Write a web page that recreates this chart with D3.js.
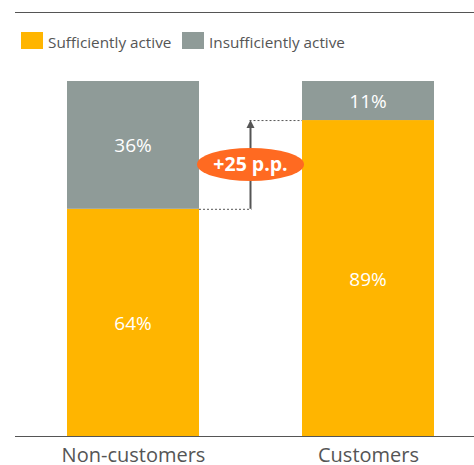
<!DOCTYPE html>
<html>
<head>
<meta charset="utf-8">
<script src="https://cdn.jsdelivr.net/npm/d3@7"></script>
<style>
  body { margin: 0; background: #fff; }
  svg { display: block; font-family: "Open Sans", sans-serif; }
</style>
</head>
<body>
<svg id="chart" width="474" height="465"></svg>
<script>
// data
var categories = ['Non-customers', 'Customers'];
var seriesNames = ['Sufficiently active', 'Insufficiently active'];
var sufficient = [64, 89];
var insufficient = [36, 11];
var colors = ['#FFB500', '#8F9B98'];
var diffLabel = '+25 p.p.';

var svg = d3.select('#chart'),
    width = +svg.attr('width'),
    height = +svg.attr('height');

var barX = d3.scalePoint().domain(categories).range([133, 368]);
var barW = 132;
var y = d3.scaleLinear().domain([0, 100]).range([436, 81]);

var rows = categories.map(function(c, i) {
  return { cat: c, sufficient: sufficient[i], insufficient: insufficient[i] };
});
var stack = d3.stack().keys(['sufficient', 'insufficient'])(rows);

// top rule
svg.append('line')
  .attr('x1', 15).attr('x2', width).attr('y1', 12.5).attr('y2', 12.5)
  .attr('stroke', '#555').attr('stroke-width', 1);

// legend
var legend = svg.append('g');
var lx = [21, 182];
seriesNames.forEach(function(s, i) {
  legend.append('rect').attr('x', lx[i]).attr('y', 32).attr('width', 22).attr('height', 17)
    .attr('fill', colors[i]);
  legend.append('text').attr('x', lx[i] + 27).attr('y', 47.5)
    .attr('font-size', 15.3).attr('fill', '#555').text(s);
});

// bars
var layers = svg.append('g').selectAll('g').data(stack).enter().append('g')
  .attr('fill', function(d, i) { return colors[i]; });

layers.selectAll('rect').data(function(d) { return d; }).enter().append('rect')
  .attr('x', function(d) { return barX(d.data.cat) - barW / 2; })
  .attr('width', barW)
  .attr('y', function(d) { return y(d[1]); })
  .attr('height', function(d) { return y(d[0]) - y(d[1]); });

layers.selectAll('text').data(function(d) { return d; }).enter().append('text')
  .attr('x', function(d) { return barX(d.data.cat); })
  .attr('y', function(d) { return (y(d[0]) + y(d[1])) / 2 + 7.5; })
  .attr('text-anchor', 'middle')
  .attr('font-size', 19)
  .attr('fill', '#fff')
  .text(function(d) { return (d[1] - d[0]) + '%'; });

// baseline axis
var axis = d3.axisBottom(barX).tickSize(0).tickPadding(0);
var gAxis = svg.append('g').attr('transform', 'translate(0,436)').call(axis);
gAxis.select('.domain').remove();
gAxis.selectAll('text').attr('font-size', 20).attr('fill', '#555')
  .attr('dy', null).attr('y', 26)
  .attr('font-family', '"Open Sans", sans-serif');
svg.append('line')
  .attr('x1', 15).attr('x2', width).attr('y1', 436.5).attr('y2', 436.5)
  .attr('stroke', '#555').attr('stroke-width', 1);

// difference annotation
var left = barX(categories[0]) + barW / 2,
    right = barX(categories[1]) - barW / 2,
    mid = (left + right) / 2,
    y0 = y(sufficient[0]),
    y1 = y(sufficient[1]);

svg.append('line').attr('x1', left).attr('x2', mid + 1).attr('y1', y0 + 0.5).attr('y2', y0 + 0.5)
  .attr('stroke', '#555').attr('stroke-dasharray', '2,2');
svg.append('line').attr('x1', mid - 1).attr('x2', right).attr('y1', y1 + 0.5).attr('y2', y1 + 0.5)
  .attr('stroke', '#555').attr('stroke-dasharray', '2,2');
svg.append('line').attr('x1', mid).attr('x2', mid).attr('y1', y0).attr('y2', y1 + 6)
  .attr('stroke', '#555').attr('stroke-width', 2);
svg.append('path')
  .attr('d', 'M' + mid + ',' + y1 + 'L' + (mid - 4) + ',' + (y1 + 8) + 'L' + (mid + 4) + ',' + (y1 + 8) + 'Z')
  .attr('fill', '#555');

var cy = (y0 + y1) / 2;
svg.append('ellipse').attr('cx', mid).attr('cy', cy).attr('rx', 53.5).attr('ry', 16.5)
  .attr('fill', '#FF6A21');
svg.append('text').attr('x', mid).attr('y', cy + 7)
  .attr('text-anchor', 'middle').attr('font-size', 19.5).attr('font-weight', 'bold')
  .attr('fill', '#fff').text(diffLabel);
</script>
</body>
</html>
